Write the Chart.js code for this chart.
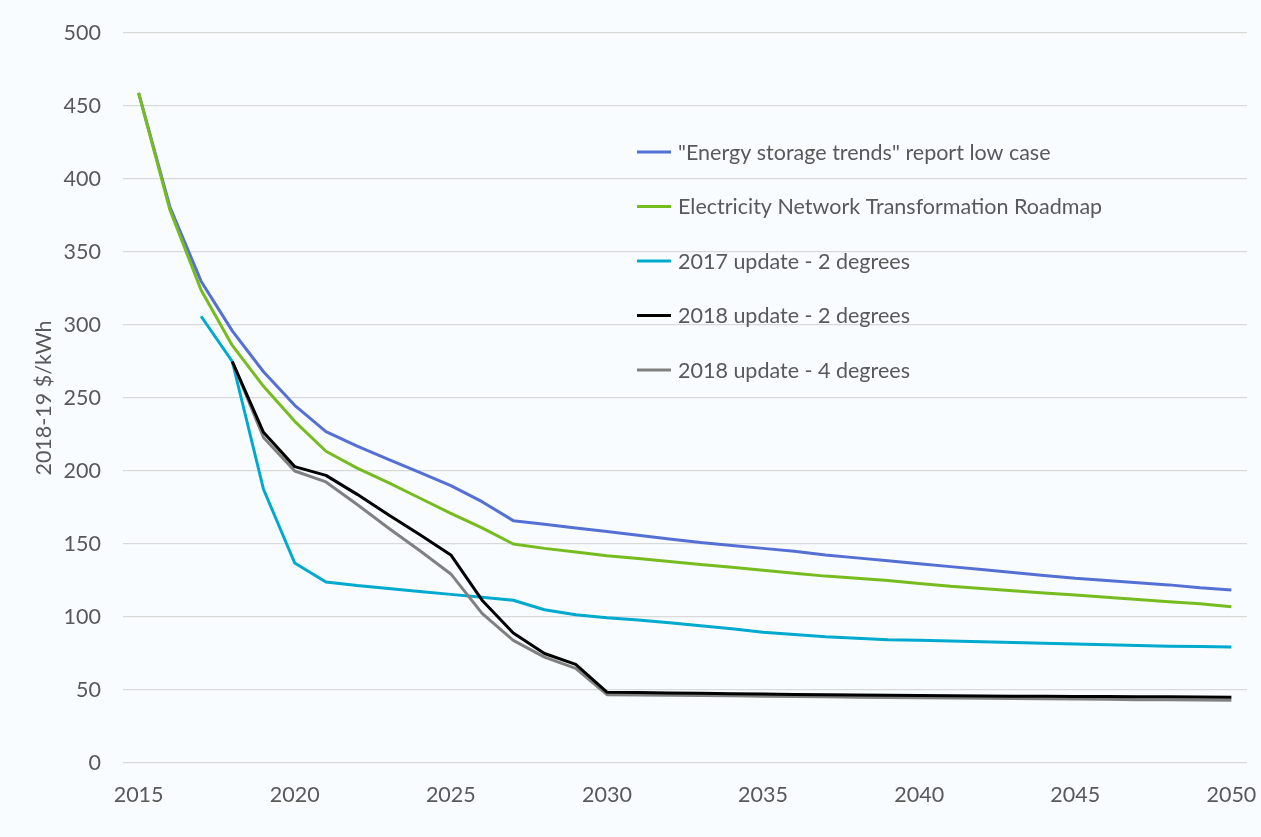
<!DOCTYPE html>
<html>
<head>
<meta charset="utf-8">
<script src="https://cdn.jsdelivr.net/npm/chart.js@4/dist/chart.umd.min.js"></script>
<style>
html,body{margin:0;padding:0;background:#F8FCFE;}
#wrap{width:1261px;height:837px;position:relative;}
</style>
</head>
<body>
<div id="wrap"><canvas id="c" width="1261" height="837"></canvas></div>
<script>
const years = [2015,2016,2017,2018,2019,2020,2021,2022,2023,2024,2025,2026,2027,2028,2029,2030,2031,2032,2033,2034,2035,2036,2037,2038,2039,2040,2041,2042,2043,2044,2045,2046,2047,2048,2049,2050];
const xTicks = [2015,2020,2025,2030,2035,2040,2045,2050];
const yTicks = [0,50,100,150,200,250,300,350,400,450,500];

const seriesNames = ['"Energy storage trends" report low case','Electricity Network Transformation Roadmap','2017 update - 2 degrees','2018 update - 2 degrees','2018 update - 4 degrees'];

const energyStorageLow = [459,381,330,296,268,245,227,217,208,199,190,179,166,163.5,161,158.5,156,153.5,151,149,147,145,142.5,140.5,138.5,136.5,134.5,132.5,130.5,128.5,126.5,125,123.5,122,120,118.5];
const entRoadmap = [459,379,324,286,258,234,213.5,202,192,181.5,171,161,150,147,144.5,142,140,138,136,134,132,130,128,126.5,125,123,121,119.5,118,116.5,115,113.5,112,110.5,109,107];
const update2017_2deg = [null,null,306,275,187.5,137,124,121.5,119.5,117.5,115.5,113.5,111.5,105,101.5,99.5,98,96,94,92,89.5,88,86.5,85.5,84.5,84,83.5,83,82.5,82,81.5,81,80.5,80,79.8,79.5];
const update2018_2deg = [null,null,null,275,226.5,203,197,184,170,156.5,142.5,111.5,89,75,67.5,48.5,48.3,48,47.8,47.5,47.3,47,46.8,46.6,46.4,46.2,46,45.9,45.8,45.7,45.6,45.5,45.4,45.3,45.2,45.1];
const update2018_4deg = [null,null,null,275,223,200,192.5,177,161,145.5,129.5,102.5,84,72.5,64.8,46.8,46.6,46.4,46.2,46,45.8,45.5,45.3,45.1,44.9,44.7,44.5,44.3,44.1,44,43.8,43.6,43.4,43.3,43.1,43];

const colors = ['#5570D4','#77BC1F','#00A9CE','#000000','#808080'];
const allSeries = [energyStorageLow, entRoadmap, update2017_2deg, update2018_2deg, update2018_4deg];
const drawOrder = [5,4,3,1,2];

const FONT = 'Lato, "Open Sans", sans-serif';
const FS = 21.5;
const TXT = '#595959';

const bgPlugin = {
  id:'bg',
  beforeDraw(chart){
    const ctx = chart.ctx;
    ctx.save();
    ctx.fillStyle = '#F8FCFE';
    ctx.fillRect(0,0,chart.width,chart.height);
    ctx.restore();
  }
};

const legendPlugin = {
  id:'innerLegend',
  afterDraw(chart){
    const ctx = chart.ctx;
    const a = chart.chartArea;
    const x0 = a.left + 514;
    const y0 = a.top + 119;
    const step = 54.5;
    ctx.save();
    ctx.font = FS + 'px ' + FONT;
    ctx.textBaseline = 'middle';
    ctx.textAlign = 'left';
    chart.data.datasets.forEach((ds,i)=>{
      const y = y0 + i*step;
      ctx.strokeStyle = ds.borderColor;
      ctx.lineWidth = 3;
      ctx.beginPath();
      ctx.moveTo(x0, y);
      ctx.lineTo(x0+34, y);
      ctx.stroke();
      ctx.fillStyle = TXT;
      ctx.fillText(ds.label, x0+41, y+1);
    });
    ctx.restore();
  }
};

new Chart(document.getElementById('c'), {
  type:'line',
  data:{
    datasets: allSeries.map((arr,i)=>({
      label: seriesNames[i],
      data: years.map((yr,j)=>({x:yr, y:arr[j]})),
      borderColor: colors[i],
      backgroundColor: colors[i],
      borderWidth: 3,
      pointRadius: 0,
      tension: 0,
      spanGaps: false,
      order: drawOrder[i],
      borderJoinStyle: 'round'
    }))
  },
  options:{
    responsive:false,
    animation:false,
    layout:{padding:{left:31,top:33,right:14,bottom:0}},
    plugins:{legend:{display:false}, tooltip:{enabled:false}},
    scales:{
      x:{
        type:'linear',
        min:2014.5,
        max:2050.5,
        afterBuildTicks(scale){ scale.ticks = xTicks.map(v=>({value:v})); },
        afterFit(scale){ scale.height = 74; scale.paddingLeft = 0; scale.paddingRight = 0; },
        grid:{display:false, drawTicks:false},
        border:{display:false},
        ticks:{
          padding:19,
          color:TXT,
          font:{family:FONT,size:FS},
          maxRotation:0,
          autoSkip:false,
          callback:(v)=>String(v)
        }
      },
      y:{
        type:'linear',
        min:0,
        max:500,
        afterBuildTicks(scale){ scale.ticks = yTicks.map(v=>({value:v})); },
        afterFit(scale){ scale.width = 92; scale.paddingTop = 0; scale.paddingBottom = 0; },
        grid:{color:'#D9D9D9', lineWidth:1.3, drawTicks:false},
        border:{display:false},
        title:{display:true, text:'2018-19 $/kWh', color:TXT, font:{family:FONT,size:FS}, padding:0},
        ticks:{
          padding:22,
          color:TXT,
          font:{family:FONT,size:FS},
          callback:(v)=>String(v)
        }
      }
    }
  },
  plugins:[bgPlugin, legendPlugin]
});
</script>
</body>
</html>
